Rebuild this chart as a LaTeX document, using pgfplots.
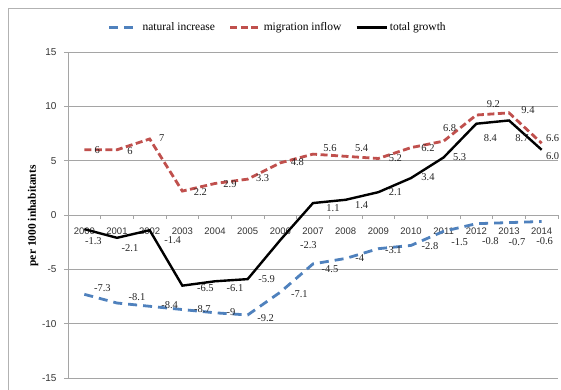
\documentclass[border=0pt]{standalone}
\usepackage{fontspec}
\setmainfont{Liberation Serif}
\setsansfont{Liberation Sans}
\usepackage{pgfplots}
\usepackage{pgfplotstable}
\pgfplotsset{compat=1.18}
\definecolor{natblue}{RGB}{79,129,189}
\definecolor{migred}{RGB}{192,80,77}
\definecolor{gridgray}{RGB}{165,165,165}

% x y lbl dx up  (dx, up: label offset in pt)
\pgfplotstableread{
x y lbl dx up
0 -7.3 -7.3 18 6
1 -8.1 -8.1 20 6
2 -8.4 -8.4 20 1
3 -8.7 -8.7 20 0
4 -9 -9 16 1
5 -9.2 -9.2 18 -3
6 -7.1 -7.1 19 -2
7 -4.5 -4.5 17 -5
8 -4 -4 14 0
9 -3.1 -3.1 15 -1
10 -2.8 -2.8 19 -1
11 -1.5 -1.5 16 -11
12 -0.8 -0.8 14 -17
13 -0.7 -0.7 8 -19
14 -0.6 -0.6 3 -20
}\nat

\pgfplotstableread{
x y lbl dx up
0 6 6 13 0
1 6 6 13 -1
2 7 7 12 1
3 2.2 2.2 18 -1
4 2.9 2.9 15 -1
5 3.3 3.3 15 1
6 4.8 4.8 17 1
7 5.6 5.6 17 6
8 5.4 5.4 16 8
9 5.2 5.2 17 0
10 6.2 6.2 17 0
11 6.8 6.8 6 13
12 9.2 9.2 17 11
13 9.4 9.4 19 3
14 6.6 6.6 11 5
}\mig

\pgfplotstableread{
x y lbl dx up
0 -1.3 -1.3 9 -12
1 -2.1 -2.1 13 -10
2 -1.4 -1.4 23 -10
3 -6.5 -6.5 23 -2
4 -6.1 -6.1 20 -7
5 -5.9 -5.9 19 0
6 -2.3 -2.3 28 -5
7 1.1 1.1 20 -5
8 1.4 1.4 16 -5
9 2.1 2.1 17 0
10 3.4 3.4 17 1
11 5.3 5.3 16 0
12 8.4 8.4 14 -14
13 8.7 8.7 13 -18
14 6.0 6.0 11 -6
}\tot

\pgfplotsset{
  lbls/.style={draw=none, forget plot, nodes near coords,
    point meta=explicit symbolic,
    visualization depends on={\thisrow{dx}\as\dx},
    visualization depends on={\thisrow{up}\as\up},
    nodes near coords style={anchor=center, xshift=\dx pt, yshift=\up pt,
      font=\fontsize{10.5}{11}\selectfont, text=black!85, inner sep=0pt}},
}

\begin{document}
\begin{tikzpicture}
\begin{axis}[
  at={(68pt,12pt)}, anchor=south west,
  scale only axis, width=490pt, height=326pt,
  xmin=-0.5, xmax=14.5, ymin=-15, ymax=15,
  clip=false,
  axis x line=middle, axis y line=left,
  axis line style={-, gridgray, line width=0.8pt},
  hide obscured x ticks=false, hide obscured y ticks=false,
  xtick={0,...,14},
  xticklabels={2000,2001,2002,2003,2004,2005,2006,2007,2008,2009,2010,2011,2012,2013,2014},
  minor xtick={-0.5,0.5,...,14.5},
  major x tick style={draw=none},
  minor x tick style={gridgray, line width=0.8pt},
  minor tick length=4pt,
  ytick={-15,-10,...,15},
  major y tick style={gridgray, line width=0.8pt},
  major tick length=4pt,
  tick align=outside,
  ymajorgrids, grid style={gridgray, line width=0.8pt},
  /pgf/number format/assume math mode=true,
  ticklabel style={font=\sffamily\fontsize{9.5}{10}\selectfont, text=black!80},
  xticklabel style={anchor=center, yshift=-12.5pt},
  yticklabel style={anchor=east, xshift=-4pt, font=\sffamily\fontsize{10}{11}\selectfont},
  ylabel={per 1000 inhabitants},
  ylabel style={at={(axis description cs:-0.0714,0.497)}, anchor=center,
    font=\bfseries\fontsize{11.5}{12}\selectfont},
  legend style={at={(0.428,1.075)}, anchor=center, draw=none, fill=none,
    legend columns=3, font=\fontsize{11.5}{12}\selectfont,
    /tikz/every even column/.append style={column sep=12pt}},
  legend image code/.code={\draw[#1] (0pt,0pt) -- (30pt,0pt);},
]
\addplot[natblue, line width=2.8pt, dash pattern=on 9pt off 6pt] table[x=x,y=y] {\nat};
\addlegendentry{natural increase}
\addplot[migred, line width=2.8pt, dash pattern=on 7pt off 3.5pt] table[x=x,y=y] {\mig};
\addlegendentry{migration inflow}
\addplot[black, line width=2.4pt] table[x=x,y=y] {\tot};
\addlegendentry{total growth}
\addplot[lbls] table[x=x,y=y,meta=lbl] {\nat};
\addplot[lbls] table[x=x,y=y,meta=lbl] {\mig};
\addplot[lbls] table[x=x,y=y,meta=lbl] {\tot};
\end{axis}
\draw[black!30, line width=0.8pt] (8pt,-20pt) rectangle (590pt,382pt);
\pgfresetboundingbox
\path[use as bounding box] (0pt,0pt) rectangle (561pt,390pt);
\end{tikzpicture}
\end{document}
